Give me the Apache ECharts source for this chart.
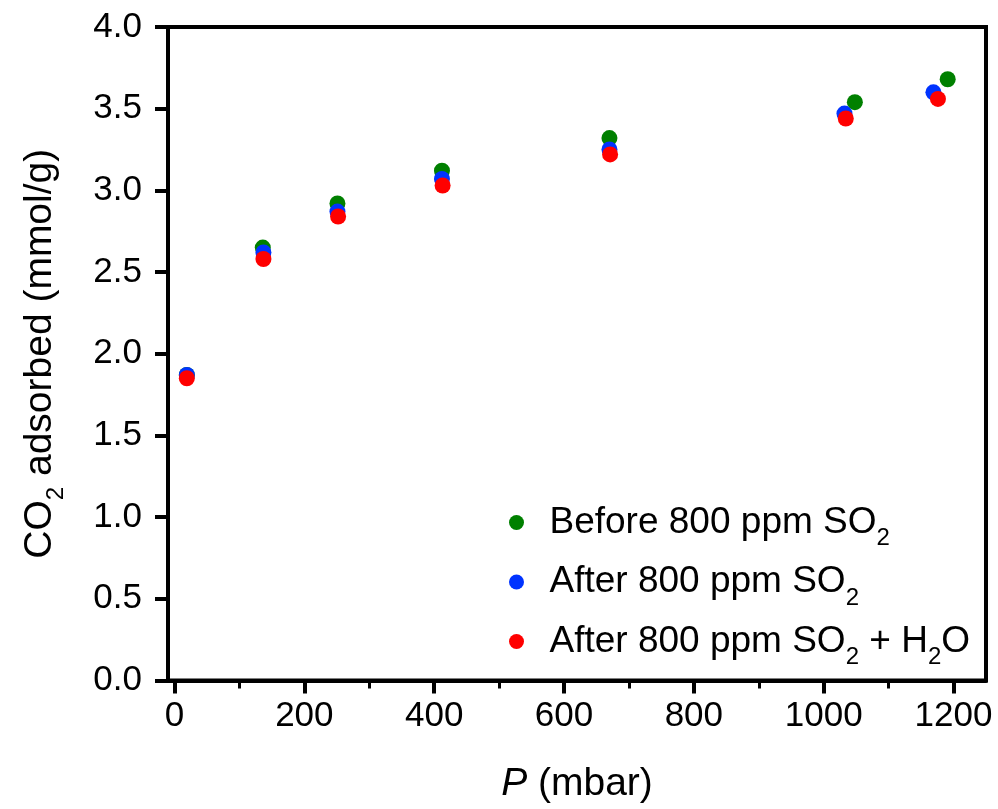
<!DOCTYPE html>
<html>
<head>
<meta charset="utf-8">
<script src="https://cdn.jsdelivr.net/npm/echarts@6/dist/echarts.min.js"></script>
<style>
  html, body { margin: 0; padding: 0; background: #fff; }
  #main { width: 998px; height: 809px; }
</style>
</head>
<body>
<div id="main"></div>
<script>
// 数据：压力 (mbar) 与 CO2 吸附量 (mmol/g)
var seriesNames = ['Before 800 ppm SO2', 'After 800 ppm SO2', 'After 800 ppm SO2 + H2O'];

var beforeP = [19, 136, 251, 412, 670, 1048, 1191];
var beforeQ = [1.87, 2.65, 2.92, 3.12, 3.32, 3.54, 3.68];

var afterP = [19, 137, 251, 412, 670, 1032, 1169];
var afterQ = [1.87, 2.62, 2.87, 3.07, 3.25, 3.47, 3.60];

var afterH2OP = [19, 137, 252, 413, 671, 1034, 1176];
var afterH2OQ = [1.85, 2.58, 2.84, 3.03, 3.22, 3.44, 3.56];

var xMajorTicks = [0, 200, 400, 600, 800, 1000, 1200];
var xMinorTicks = [100, 300, 500, 700, 900, 1100];

var seriesColors = ['#008000', '#0033ff', '#ff0000'];

function pairUp(xs, ys) {
    var out = [];
    for (var i = 0; i < xs.length; i++) {
        out.push([xs[i], ys[i]]);
    }
    return out;
}

var FONT = 'Liberation Sans, Arial, sans-serif';
var FS_TICK = 35;
var FS_LEG = 37;
var FS_NAME = 39;

function makeRich(fs, subFs) {
    return {
        a: { fontFamily: FONT, fontSize: fs, color: '#000', lineHeight: 56, verticalAlign: 'middle' },
        i: { fontFamily: FONT, fontSize: fs, color: '#000', lineHeight: 56, fontStyle: 'italic', verticalAlign: 'middle' },
        s: { fontFamily: FONT, fontSize: subFs, color: '#000', lineHeight: 18, verticalAlign: 'bottom' }
    };
}

var legendLabels = {
    'Before 800 ppm SO2': '{a|Before 800 ppm SO}{s|2}',
    'After 800 ppm SO2': '{a|After 800 ppm SO}{s|2}',
    'After 800 ppm SO2 + H2O': '{a|After 800 ppm SO}{s|2}{a| + H}{s|2}{a|O}'
};

var myChart = echarts.init(document.getElementById('main'));

var option = {
    backgroundColor: '#fff',
    animation: false,
    grid: {
        left: 168, right: 12, top: 27, bottom: 122,
        show: true,
        borderColor: '#000',
        borderWidth: 4,
        backgroundColor: 'transparent'
    },
    legend: {
        orient: 'vertical',
        left: 504,
        top: 499,
        itemWidth: 56,
        itemHeight: 15,
        itemGap: 13,
        icon: 'circle',
        data: seriesNames,
        formatter: function (name) { return legendLabels[name]; },
        textStyle: { fontFamily: FONT, fontSize: FS_LEG, color: '#000', rich: makeRich(FS_LEG, 24) }
    },
    xAxis: [{
        type: 'value',
        min: -10,
        max: 1250,
        name: '{i|P}{a| (mbar)}',
        nameLocation: 'middle',
        nameGap: 76,
        nameTextStyle: { rich: makeRich(FS_NAME, 24) },
        splitLine: { show: false },
        axisLine: { show: true, onZero: false, lineStyle: { color: '#000', width: 4 } },
        axisTick: { show: true, inside: false, length: 13, customValues: xMajorTicks, lineStyle: { color: '#000', width: 4 } },
        axisLabel: {
            customValues: xMajorTicks,
            margin: 18,
            color: '#000',
            fontFamily: FONT,
            fontSize: FS_TICK,
            formatter: function (v) { return String(v); }
        }
    }, {
        // 次刻度
        type: 'value',
        position: 'bottom',
        min: -10,
        max: 1250,
        splitLine: { show: false },
        axisLine: { show: false },
        axisTick: { show: true, inside: false, length: 8, customValues: xMinorTicks, lineStyle: { color: '#000', width: 3 } },
        axisLabel: { show: false }
    }],
    yAxis: {
        type: 'value',
        min: 0,
        max: 4,
        interval: 0.5,
        name: '{a|CO}{s|2}{a| adsorbed (mmol/g)}',
        nameLocation: 'middle',
        nameGap: 100,
        nameTextStyle: { rich: makeRich(FS_NAME, 24) },
        splitLine: { show: false },
        axisLine: { show: true, onZero: false, lineStyle: { color: '#000', width: 4 } },
        axisTick: { show: true, inside: false, length: 13, lineStyle: { color: '#000', width: 4 } },
        axisLabel: {
            margin: 26,
            color: '#000',
            fontFamily: FONT,
            fontSize: FS_TICK,
            formatter: function (v) { return v.toFixed(1); }
        }
    },
    series: [{
        name: seriesNames[0],
        type: 'scatter',
        symbol: 'circle',
        symbolSize: 16,
        itemStyle: { color: seriesColors[0], opacity: 1 },
        data: pairUp(beforeP, beforeQ)
    }, {
        name: seriesNames[1],
        type: 'scatter',
        symbol: 'circle',
        symbolSize: 16,
        itemStyle: { color: seriesColors[1], opacity: 1 },
        data: pairUp(afterP, afterQ)
    }, {
        name: seriesNames[2],
        type: 'scatter',
        symbol: 'circle',
        symbolSize: 16,
        itemStyle: { color: seriesColors[2], opacity: 1 },
        data: pairUp(afterH2OP, afterH2OQ)
    }]
};

myChart.setOption(option);
</script>
</body>
</html>
